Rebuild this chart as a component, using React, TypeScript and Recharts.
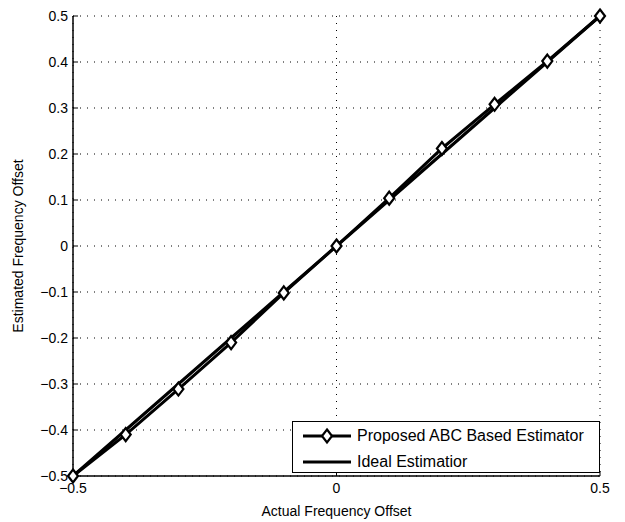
import React from "react";
import {
  LineChart,
  Line,
  XAxis,
  YAxis,
  CartesianGrid,
} from "recharts";

// values
const offsets = [-0.5, -0.4, -0.3, -0.2, -0.1, 0, 0.1, 0.2, 0.3, 0.4, 0.5];
const proposedEst = [-0.5, -0.41, -0.311, -0.21, -0.102, 0, 0.104, 0.212, 0.308, 0.402, 0.5];
const idealEst = [-0.5, -0.4, -0.3, -0.2, -0.1, 0, 0.1, 0.2, 0.3, 0.4, 0.5];
const xTicks = [-0.5, 0, 0.5];
const yTicks = [-0.5, -0.4, -0.3, -0.2, -0.1, 0, 0.1, 0.2, 0.3, 0.4, 0.5];
const seriesNames = ["Proposed ABC Based Estimator", "Ideal Estimatior"];

const rows = offsets.map((x, i) => ({
  x,
  proposed: proposedEst[i],
  ideal: idealEst[i],
}));

const FONT = "'Liberation Sans', Arial, Helvetica, sans-serif";

const fmt = (v: number) =>
  v === 0 ? "0" : v.toFixed(1).replace("-", "\u2212");

function Diamond(props: any) {
  const { cx, cy } = props;
  if (cx == null || cy == null) return null;
  return (
    <path
      d={`M${cx},${cy - 6.5} L${cx + 5},${cy} L${cx},${cy + 6.5} L${cx - 5},${cy} Z`}
      fill="#fff"
      stroke="#000"
      strokeWidth={2.2}
    />
  );
}

function LegendBox() {
  return (
    <div
      style={{
        position: "absolute",
        left: 292,
        top: 421,
        width: 306,
        height: 50,
        border: "1px solid #000",
        background: "#fff",
        fontFamily: FONT,
        fontSize: 16,
        color: "#000",
      }}
    >
      {seriesNames.map((name, i) => (
        <div
          key={name}
          style={{
            position: "absolute",
            left: 0,
            top: 3 + i * 26,
            height: 22,
            display: "flex",
            alignItems: "center",
            whiteSpace: "nowrap",
          }}
        >
          <svg width={64} height={22} style={{ display: "block" }}>
            <line x1={10} x2={58} y1={11} y2={11} stroke="#000" strokeWidth={3} />
            {i === 0 && <Diamond cx={34} cy={11} />}
          </svg>
          <span>{name}</span>
        </div>
      ))}
    </div>
  );
}

export default function App() {
  return (
    <div
      style={{
        position: "absolute",
        left: 0,
        top: 0,
        width: 625,
        height: 522,
        background: "#fff",
      }}
    >
      <LineChart
        width={625}
        height={522}
        data={rows}
        margin={{ top: 16, right: 25, bottom: 0, left: 0 }}
      >
        <CartesianGrid
          xAxisId="bottom"
          yAxisId="left"
          stroke="#000"
          strokeDasharray="1 6"
          strokeWidth={1}
        />
        <XAxis
          xAxisId="bottom"
          dataKey="x"
          type="number"
          domain={[-0.5, 0.5]}
          ticks={xTicks}
          tickFormatter={fmt}
          height={46}
          tickSize={-5}
          tickMargin={12}
          axisLine={{ stroke: "#000", strokeWidth: 1.5 }}
          tickLine={{ stroke: "#000" }}
          tick={{ fill: "#000", fontSize: 14, fontFamily: FONT }}
          label={{
            value: "Actual Frequency Offset",
            position: "insideBottom",
            offset: 6,
            fill: "#000",
            fontSize: 14,
            fontFamily: FONT,
          }}
        />
        <XAxis
          xAxisId="top"
          orientation="top"
          type="number"
          dataKey="x"
          domain={[-0.5, 0.5]}
          ticks={xTicks}
          height={0}
          tickSize={-5}
          tick={false}
          axisLine={{ stroke: "#000", strokeWidth: 1.5 }}
          tickLine={{ stroke: "#000" }}
        />
        <YAxis
          yAxisId="left"
          type="number"
          domain={[-0.5, 0.5]}
          ticks={yTicks}
          tickFormatter={fmt}
          width={73}
          tickSize={-5}
          tickMargin={10}
          axisLine={{ stroke: "#000", strokeWidth: 1.5 }}
          tickLine={{ stroke: "#000" }}
          tick={{ fill: "#000", fontSize: 14, fontFamily: FONT }}
          label={{
            value: "Estimated Frequency Offset",
            angle: -90,
            position: "insideLeft",
            offset: 18,
            fill: "#000",
            fontSize: 14,
            fontFamily: FONT,
            style: { textAnchor: "middle" },
          }}
        />
        <YAxis
          yAxisId="right"
          orientation="right"
          type="number"
          domain={[-0.5, 0.5]}
          ticks={yTicks}
          width={0}
          tickSize={-5}
          tick={false}
          axisLine={{ stroke: "#000", strokeWidth: 1.5 }}
          tickLine={{ stroke: "#000" }}
        />
        <Line
          xAxisId="bottom"
          yAxisId="left"
          dataKey="ideal"
          type="linear"
          stroke="#000"
          strokeWidth={3}
          dot={false}
          activeDot={false}
          isAnimationActive={false}
        />
        <Line
          xAxisId="bottom"
          yAxisId="left"
          dataKey="proposed"
          type="linear"
          stroke="#000"
          strokeWidth={3}
          dot={<Diamond />}
          activeDot={false}
          isAnimationActive={false}
        />
      </LineChart>
      <LegendBox />
    </div>
  );
}
